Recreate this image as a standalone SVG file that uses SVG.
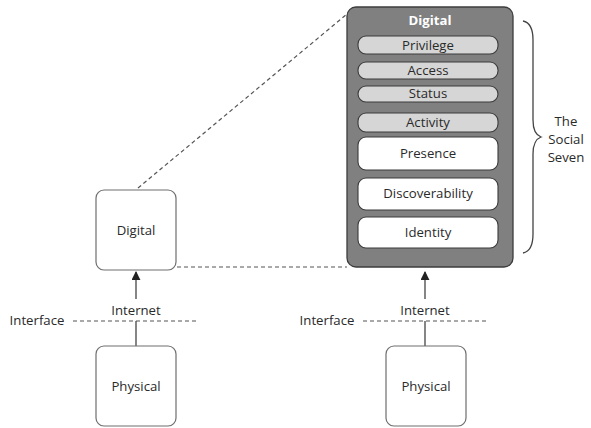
<svg xmlns="http://www.w3.org/2000/svg" width="591" height="428" viewBox="0 0 591 428">
  <style>
    text { font-family: "Open Sans", "DejaVu Sans", sans-serif; font-size: 13.2px; fill: #2a2a2a; }
    .c { text-anchor: middle; dominant-baseline: central; }
    .box { fill: #ffffff; stroke: #6e6e6e; stroke-width: 1.2; }
    .pill { fill: #d6d6d6; stroke: #3a3a3a; stroke-width: 1.1; }
    .wbox { fill: #ffffff; stroke: #3a3a3a; stroke-width: 1.1; }
    .dash { fill: none; stroke: #555; stroke-width: 1.2; stroke-dasharray: 4 3; }
    .line { fill: none; stroke: #444; stroke-width: 1.3; }
  </style>
  <defs>
    <marker id="arrow" viewBox="0 0 10 10" refX="9" refY="5" markerWidth="9" markerHeight="9" orient="auto" markerUnits="userSpaceOnUse">
      <path d="M0,0 L10,5 L0,10 z" fill="#222"/>
    </marker>
  </defs>

  <g id="connectors">
    <line class="dash" x1="138" y1="188" x2="347" y2="14"/>
    <line class="dash" x1="177" y1="267" x2="347" y2="267"/>
    <line class="dash" x1="73" y1="321" x2="198" y2="321"/>
    <line class="dash" x1="363" y1="321" x2="489" y2="321"/>
    <line class="line" x1="136" y1="299" x2="136" y2="272" marker-end="url(#arrow)"/>
    <line class="line" x1="136" y1="321" x2="136" y2="346"/>
    <line class="line" x1="425" y1="299" x2="425" y2="272" marker-end="url(#arrow)"/>
    <line class="line" x1="425" y1="321" x2="425" y2="346"/>
    <path class="line" d="M523,21 Q533,23 533,40 L533,120 Q533,134 541,137 Q533,140 533,154 L533,234 Q533,251 523,253" stroke-width="1"/>
  </g>

  <g id="digital-left">
    <rect class="box" x="96" y="190" width="80" height="80" rx="8"/>
    <text class="c" x="136" y="230">Digital</text>
  </g>

  <g id="physical-left">
    <rect class="box" x="96" y="346" width="80" height="80" rx="8"/>
    <text class="c" x="136" y="386">Physical</text>
  </g>

  <g id="physical-right">
    <rect class="box" x="386" y="346" width="80" height="80" rx="8"/>
    <text class="c" x="426" y="386">Physical</text>
  </g>

  <g id="labels">
    <text class="c" x="136" y="310">Internet</text>
    <text class="c" x="425" y="310">Internet</text>
    <text class="c" x="37" y="320">Interface</text>
    <text class="c" x="327" y="320">Interface</text>
    <text class="c" x="566" y="121">The</text>
    <text class="c" x="566" y="139">Social</text>
    <text class="c" x="566" y="157">Seven</text>
  </g>

  <g id="digital-right">
    <rect x="347" y="7" width="166" height="260" rx="9" fill="#808080" stroke="#3c3c3c" stroke-width="1.3"/>
    <text class="c" x="430" y="20" style="fill:#ffffff;font-weight:bold">Digital</text>
    <g id="privilege">
      <rect class="pill" x="358" y="36" width="140" height="18" rx="8"/>
      <text class="c" x="428" y="45">Privilege</text>
    </g>
    <g id="access">
      <rect class="pill" x="358" y="62" width="140" height="17" rx="8"/>
      <text class="c" x="428" y="70">Access</text>
    </g>
    <g id="status">
      <rect class="pill" x="358" y="86" width="140" height="16" rx="8"/>
      <text class="c" x="428" y="93">Status</text>
    </g>
    <g id="activity">
      <rect class="pill" x="358" y="113" width="140" height="19" rx="8"/>
      <text class="c" x="428" y="122">Activity</text>
    </g>
    <g id="presence">
      <rect class="wbox" x="358" y="137" width="140" height="33" rx="8"/>
      <text class="c" x="428" y="153">Presence</text>
    </g>
    <g id="discoverability">
      <rect class="wbox" x="358" y="178" width="140" height="32" rx="8"/>
      <text class="c" x="428" y="193">Discoverability</text>
    </g>
    <g id="identity">
      <rect class="wbox" x="358" y="217" width="140" height="31" rx="8"/>
      <text class="c" x="428" y="232">Identity</text>
    </g>
  </g>
</svg>
